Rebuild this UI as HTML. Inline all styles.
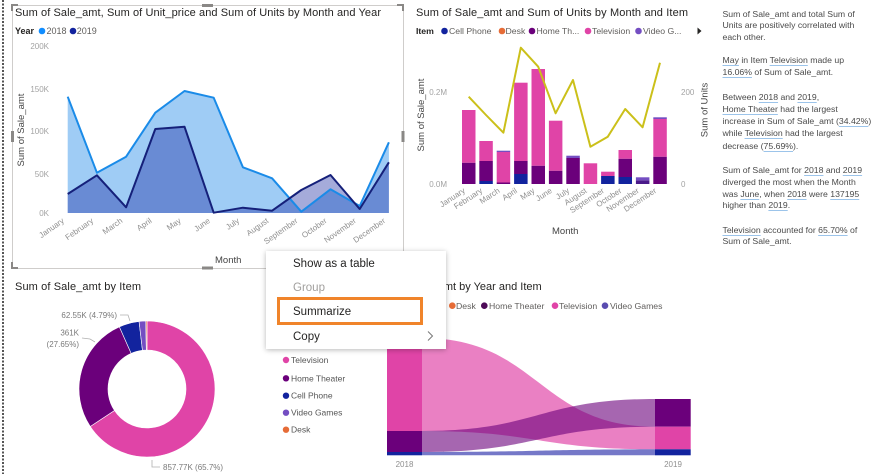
<!DOCTYPE html>
<html>
<head>
<meta charset="utf-8">
<style>
  html,body{margin:0;padding:0;background:#fff;}
  body{width:878px;height:474px;position:relative;overflow:hidden;font-family:"Liberation Sans",sans-serif;}
  svg{position:absolute;left:0;top:0;}
  .tp{position:absolute;left:722.5px;font-size:8.7px;line-height:12px;color:#4a4a4a;white-space:nowrap;}
  .u{text-decoration:underline;text-decoration-color:#9cc4ea;text-underline-offset:2px;}
  .menu{position:absolute;left:266px;top:251px;width:180px;height:98px;background:#fff;box-shadow:0 1px 5px rgba(0,0,0,0.28);}
  .mi{position:absolute;left:27px;font-size:11.5px;color:#252423;white-space:nowrap;line-height:14px;}
</style>
</head>
<body>
<svg width="878" height="474" viewBox="0 0 878 474" xmlns="http://www.w3.org/2000/svg" font-family="Liberation Sans, sans-serif">
  <!-- left dotted border -->
  <line x1="3" y1="0" x2="3" y2="474" stroke="#555" stroke-width="2" stroke-dasharray="2 1.5"/>

  <!-- ============ TOP-LEFT VISUAL ============ -->
  <rect x="12.5" y="5.5" width="391" height="263" fill="none" stroke="#cfcdcb" stroke-width="1"/>
  <!-- corner brackets -->
  <path d="M12,11 L12,5 L18,5" fill="none" stroke="#8a8886" stroke-width="2"/>
  <path d="M397,5 L403,5 L403,11" fill="none" stroke="#8a8886" stroke-width="2"/>
  <path d="M12,262 L12,268 L18,268" fill="none" stroke="#8a8886" stroke-width="2"/>
  <path d="M397,268 L403,268 L403,262" fill="none" stroke="#8a8886" stroke-width="2"/>
  <rect x="202" y="4" width="11" height="3" fill="#8a8886"/>
  <rect x="202" y="266.5" width="11" height="3" fill="#8a8886"/>
  <rect x="11" y="131" width="3" height="11" fill="#8a8886"/>
  <rect x="401.5" y="131" width="3" height="11" fill="#8a8886"/>

  <text x="15" y="16" font-size="11" fill="#252423" textLength="366">Sum of Sale_amt, Sum of Unit_price and Sum of Units by Month and Year</text>
  <text x="15" y="34" font-size="9" font-weight="bold" fill="#252423">Year</text>
  <circle cx="42" cy="31" r="3.3" fill="#118DFF"/>
  <text x="46.5" y="34" font-size="9" fill="#605e5c">2018</text>
  <circle cx="73" cy="31" r="3.3" fill="#12239E"/>
  <text x="76.7" y="34" font-size="9" fill="#605e5c">2019</text>

  <g font-size="8" fill="#a3a3a3" text-anchor="end">
    <text x="49" y="49">200K</text>
    <text x="49" y="92">150K</text>
    <text x="49" y="134">100K</text>
    <text x="49" y="177">50K</text>
    <text x="49" y="216">0K</text>
  </g>
  <text transform="translate(24,130) rotate(-90)" font-size="9.5" fill="#444" text-anchor="middle">Sum of Sale_amt</text>

  <!-- areas -->
  <path d="M67.7,213 L67.7,96.7 L96.9,172.7 L126.1,156.7 L155.3,112.7 L184.5,91 L213.7,97.7 L242.9,167.3 L272.1,178.3 L301.3,211.7 L330.5,189.3 L359.7,206 L388.9,142.3 L388.9,213 Z" fill="#9fccf5"/>
  <path d="M67.7,213 L67.7,194 L96.9,175.3 L126.1,207.3 L155.3,129 L184.5,126.7 L213.7,212.7 L242.9,207.7 L272.1,210.7 L301.3,190 L330.5,175 L359.7,209 L388.9,162.3 L388.9,213 Z" fill="#12239E" fill-opacity="0.38"/>
  <polyline points="67.7,96.7 96.9,172.7 126.1,156.7 155.3,112.7 184.5,91 213.7,97.7 242.9,167.3 272.1,178.3 301.3,211.7 330.5,189.3 359.7,206 388.9,142.3" fill="none" stroke="#1a8be8" stroke-width="2" stroke-linejoin="round"/>
  <polyline points="67.7,194 96.9,175.3 126.1,207.3 155.3,129 184.5,126.7 213.7,212.7 242.9,207.7 272.1,210.7 301.3,190 330.5,175 359.7,209 388.9,162.3" fill="none" stroke="#15207a" stroke-width="2" stroke-linejoin="round"/>

  <g font-size="8" fill="#8f8f8f" text-anchor="end">
    <text transform="translate(64.7,222) rotate(-35)">January</text>
    <text transform="translate(93.9,222) rotate(-35)">February</text>
    <text transform="translate(123.1,222) rotate(-35)">March</text>
    <text transform="translate(152.3,222) rotate(-35)">April</text>
    <text transform="translate(181.5,222) rotate(-35)">May</text>
    <text transform="translate(210.7,222) rotate(-35)">June</text>
    <text transform="translate(239.9,222) rotate(-35)">July</text>
    <text transform="translate(269.1,222) rotate(-35)">August</text>
    <text transform="translate(298.3,222) rotate(-35)">September</text>
    <text transform="translate(327.5,222) rotate(-35)">October</text>
    <text transform="translate(356.7,222) rotate(-35)">November</text>
    <text transform="translate(385.9,222) rotate(-35)">December</text>
  </g>
  <text x="215" y="263" font-size="9.5" fill="#444">Month</text>

  <!-- ============ TOP-RIGHT VISUAL ============ -->
  <text x="416" y="16" font-size="11" fill="#252423" textLength="272">Sum of Sale_amt and Sum of Units by Month and Item</text>
  <text x="416" y="34" font-size="8.7" font-weight="bold" fill="#252423">Item</text>
  <g font-size="8.7" fill="#605e5c">
    <circle cx="444.5" cy="31" r="3.3" fill="#12239E"/><text x="449" y="34">Cell Phone</text>
    <circle cx="502" cy="31" r="3.3" fill="#E66C37"/><text x="505.5" y="34">Desk</text>
    <circle cx="532" cy="31" r="3.3" fill="#6B007B"/><text x="536.5" y="34">Home Th...</text>
    <circle cx="588" cy="31" r="3.3" fill="#E044A7"/><text x="592" y="34">Television</text>
    <circle cx="638.5" cy="31" r="3.3" fill="#744EC2"/><text x="643" y="34">Video G...</text>
  </g>
  <path d="M697.5,27.5 L701.5,31 L697.5,34.5 Z" fill="#252423"/>

  <g font-size="8" fill="#a3a3a3">
    <text x="447" y="95" text-anchor="end">0.2M</text>
    <text x="447" y="187" text-anchor="end">0.0M</text>
    <text x="681" y="95">200</text>
    <text x="681" y="187">0</text>
  </g>
  <text transform="translate(424,115) rotate(-90)" font-size="9.5" fill="#444" text-anchor="middle">Sum of Sale_amt</text>
  <text transform="translate(707.5,110) rotate(-90)" font-size="9.5" fill="#444" text-anchor="middle">Sum of Units</text>

  <!-- bars -->
  <g>
    <!-- Jan -->
    <rect x="462" y="162.7" width="13.5" height="21.3" fill="#6B007B"/>
    <rect x="462" y="110" width="13.5" height="52.7" fill="#E044A7"/>
    <!-- Feb -->
    <rect x="479.3" y="181" width="13.5" height="3" fill="#12239E"/>
    <rect x="479.3" y="161" width="13.5" height="20" fill="#6B007B"/>
    <rect x="479.3" y="141" width="13.5" height="20" fill="#E044A7"/>
    <!-- Mar -->
    <rect x="496.7" y="182.5" width="13.5" height="1.5" fill="#6B007B"/>
    <rect x="496.7" y="152" width="13.5" height="30.5" fill="#E044A7"/>
    <rect x="496.7" y="150.7" width="13.5" height="1.3" fill="#744EC2"/>
    <!-- Apr -->
    <rect x="514.1" y="174" width="13.5" height="10" fill="#12239E"/>
    <rect x="514.1" y="161" width="13.5" height="13" fill="#6B007B"/>
    <rect x="514.1" y="82.7" width="13.5" height="78.3" fill="#E044A7"/>
    <!-- May -->
    <rect x="531.5" y="165.7" width="13.5" height="18.3" fill="#6B007B"/>
    <rect x="531.5" y="69" width="13.5" height="96.7" fill="#E044A7"/>
    <!-- Jun -->
    <rect x="548.9" y="170.7" width="13.5" height="13.3" fill="#6B007B"/>
    <rect x="548.9" y="120.7" width="13.5" height="50" fill="#E044A7"/>
    <!-- Jul -->
    <rect x="566.3" y="158" width="13.5" height="26" fill="#6B007B"/>
    <rect x="566.3" y="155.7" width="13.5" height="2.3" fill="#744EC2"/>
    <!-- Aug -->
    <rect x="583.7" y="163.3" width="13.5" height="20.7" fill="#E044A7"/>
    <!-- Sep -->
    <rect x="601.1" y="176" width="13.5" height="8" fill="#12239E"/>
    <rect x="601.1" y="171.7" width="13.5" height="4.3" fill="#E044A7"/>
    <!-- Oct -->
    <rect x="618.5" y="177" width="13.5" height="7" fill="#12239E"/>
    <rect x="618.5" y="158.7" width="13.5" height="18.3" fill="#6B007B"/>
    <rect x="618.5" y="150" width="13.5" height="8.7" fill="#E044A7"/>
    <!-- Nov -->
    <rect x="635.9" y="180.3" width="13.5" height="3.7" fill="#4b1a8a"/>
    <rect x="635.9" y="177.3" width="13.5" height="3" fill="#744EC2"/>
    <!-- Dec -->
    <rect x="653.3" y="156.7" width="13.5" height="27.3" fill="#6B007B"/>
    <rect x="653.3" y="119" width="13.5" height="37.7" fill="#E044A7"/>
    <rect x="653.3" y="117.3" width="13.5" height="1.7" fill="#744EC2"/>
  </g>
  <polyline points="468.7,96.7 486,115 503.4,132.7 520.8,47.7 538.2,66.7 555.6,113.3 573,80 590.4,146.7 607.8,136.7 625.2,109 642.6,127.3 660,62.7" fill="none" stroke="#cbc01a" stroke-width="2" stroke-linejoin="round"/>

  <g font-size="8" fill="#8f8f8f" text-anchor="end">
    <text transform="translate(465.7,192) rotate(-33)">January</text>
    <text transform="translate(483,192) rotate(-33)">February</text>
    <text transform="translate(500.4,192) rotate(-33)">March</text>
    <text transform="translate(517.8,192) rotate(-33)">April</text>
    <text transform="translate(535.2,192) rotate(-33)">May</text>
    <text transform="translate(552.6,192) rotate(-33)">June</text>
    <text transform="translate(570,192) rotate(-33)">July</text>
    <text transform="translate(587.4,192) rotate(-33)">August</text>
    <text transform="translate(604.8,192) rotate(-33)">September</text>
    <text transform="translate(622.2,192) rotate(-33)">October</text>
    <text transform="translate(639.6,192) rotate(-33)">November</text>
    <text transform="translate(657,192) rotate(-33)">December</text>
  </g>
  <text x="552" y="234" font-size="9.5" fill="#444">Month</text>

  <!-- ============ BOTTOM-LEFT DONUT ============ -->
  <text x="15" y="290" font-size="11" fill="#252423" textLength="126">Sum of Sale_amt by Item</text>
  <g stroke="#fff" stroke-width="0.6">
    <path d="M147,321 A68,68 0 1 1 90.28,426.51 L114.47,410.51 A39,39 0 1 0 147,350 Z" fill="#E044A7"/>
    <path d="M90.28,426.51 A68,68 0 0 1 119.41,326.85 L131.17,353.35 A39,39 0 0 0 114.47,410.51 Z" fill="#6B007B"/>
    <path d="M119.41,326.85 A68,68 0 0 1 139.06,321.46 L142.45,350.27 A39,39 0 0 0 131.17,353.35 Z" fill="#12239E"/>
    <path d="M139.06,321.46 A68,68 0 0 1 145.81,321.01 L146.32,350.01 A39,39 0 0 0 142.45,350.27 Z" fill="#744EC2"/>
    <path d="M145.81,321.01 A68,68 0 0 1 147,321 L147,350 A39,39 0 0 0 146.32,350.01 Z" fill="#E66C37"/>
  </g>
  <g font-size="8" fill="#7a7a7a">
    <text x="117" y="318" text-anchor="end">62.55K (4.79%)</text>
    <text x="79" y="335.5" text-anchor="end">361K</text>
    <text x="79" y="347" text-anchor="end">(27.65%)</text>
    <text x="163" y="470">857.77K (65.7%)</text>
  </g>
  <g fill="none" stroke="#b0b0b0" stroke-width="0.8">
    <polyline points="120,315 128,315 130,321"/>
    <polyline points="82,338 90,339 95,342"/>
    <polyline points="152,460 152,467 160,467"/>
  </g>
  <!-- donut legend -->
  <g font-size="8.5" fill="#555">
    <circle cx="286" cy="360" r="3.2" fill="#E044A7"/><text x="291" y="363">Television</text>
    <circle cx="286" cy="378.3" r="3.2" fill="#6B007B"/><text x="291" y="381.3">Home Theater</text>
    <circle cx="286" cy="395.7" r="3.2" fill="#12239E"/><text x="291" y="398.7">Cell Phone</text>
    <circle cx="286" cy="412.7" r="3.2" fill="#744EC2"/><text x="291" y="415.7">Video Games</text>
    <circle cx="286" cy="429.7" r="3.2" fill="#E66C37"/><text x="291" y="432.7">Desk</text>
  </g>

  <!-- ============ BOTTOM-RIGHT SANKEY ============ -->
  <text x="541.7" y="290" font-size="11" fill="#252423" text-anchor="end">Sum of Sale_amt by Year and Item</text>
  <g font-size="8.7" fill="#605e5c">
    <text x="368" y="309" font-weight="bold" fill="#252423">Item</text>
    <circle cx="397" cy="305.7" r="3.3" fill="#12239E"/><text x="401" y="309">Cell Phone</text>
    <circle cx="452.3" cy="305.7" r="3.3" fill="#E66C37"/><text x="456" y="309">Desk</text>
    <circle cx="484.3" cy="305.7" r="3.3" fill="#4d0a57"/><text x="489" y="309">Home Theater</text>
    <circle cx="555" cy="305.7" r="3.3" fill="#E044A7"/><text x="559" y="309">Television</text>
    <circle cx="605" cy="305.7" r="3.3" fill="#5a4cb0"/><text x="610" y="309">Video Games</text>
  </g>
  <!-- flows -->
  <path d="M422,338 C538.5,338 538.5,426.7 655,426.7 L655,449.3 C538.5,449.3 538.5,431 422,431 Z" fill="#E044A7" fill-opacity="0.68"/>
  <path d="M422,431 C538.5,431 538.5,399 655,399 L655,426.7 C538.5,426.7 538.5,452 422,452 Z" fill="#6B007B" fill-opacity="0.6"/>
  <path d="M422,452 C538.5,452 538.5,449.3 655,449.3 L655,455.3 L422,455.3 Z" fill="#3a3fb0" fill-opacity="0.7"/>
  <!-- nodes -->
  <rect x="387" y="338" width="35" height="93" fill="#E044A7"/>
  <rect x="387" y="431" width="35" height="21" fill="#6B007B"/>
  <rect x="387" y="452" width="35" height="3.3" fill="#12239E"/>
  <rect x="655" y="399" width="35.7" height="27.7" fill="#6B007B"/>
  <rect x="655" y="426.7" width="35.7" height="22.6" fill="#E044A7"/>
  <rect x="655" y="449.3" width="35.7" height="6" fill="#12239E"/>
  <g font-size="8" fill="#8f8f8f" text-anchor="middle">
    <text x="404.5" y="467">2018</text>
    <text x="673" y="467">2019</text>
  </g>
</svg>

<!-- text panel -->
<div class="tp" style="top:8px">Sum of Sale_amt and total Sum of</div>
<div class="tp" style="top:19px">Units are positively correlated with</div>
<div class="tp" style="top:31px">each other.</div>
<div class="tp" style="top:54px"><span class="u">May</span> in Item <span class="u">Television</span> made up</div>
<div class="tp" style="top:66px"><span class="u">16.06%</span> of Sum of Sale_amt.</div>
<div class="tp" style="top:91px">Between <span class="u">2018</span> and <span class="u">2019</span>,</div>
<div class="tp" style="top:103px"><span class="u">Home Theater</span> had the largest</div>
<div class="tp" style="top:115px">increase in Sum of Sale_amt (<span class="u">34.42%</span>)</div>
<div class="tp" style="top:127px">while <span class="u">Television</span> had the largest</div>
<div class="tp" style="top:140px">decrease (<span class="u">75.69%</span>).</div>
<div class="tp" style="top:164px">Sum of Sale_amt for <span class="u">2018</span> and <span class="u">2019</span></div>
<div class="tp" style="top:176px">diverged the most when the Month</div>
<div class="tp" style="top:188px">was <span class="u">June</span>, when <span class="u">2018</span> were <span class="u">137195</span></div>
<div class="tp" style="top:199px">higher than <span class="u">2019</span>.</div>
<div class="tp" style="top:224px"><span class="u">Television</span> accounted for <span class="u">65.70%</span> of</div>
<div class="tp" style="top:235px">Sum of Sale_amt.</div>

<!-- context menu -->
<div class="menu">
  <div class="mi" style="top:6px">Show as a table</div>
  <div class="mi" style="top:30px;color:#a19f9d">Group</div>
  <div class="mi" style="top:53.5px">Summarize</div>
  <div class="mi" style="top:78.5px">Copy</div>
  <div style="position:absolute;left:11.3px;top:46.3px;width:140px;height:21.7px;border:3px solid #f0842a;"></div>
  <svg width="10" height="12" style="position:absolute;left:160px;top:79px" viewBox="0 0 10 12">
    <polyline points="2,1.5 6.5,6 2,10.5" fill="none" stroke="#777" stroke-width="1"/>
  </svg>
</div>
</body>
</html>
